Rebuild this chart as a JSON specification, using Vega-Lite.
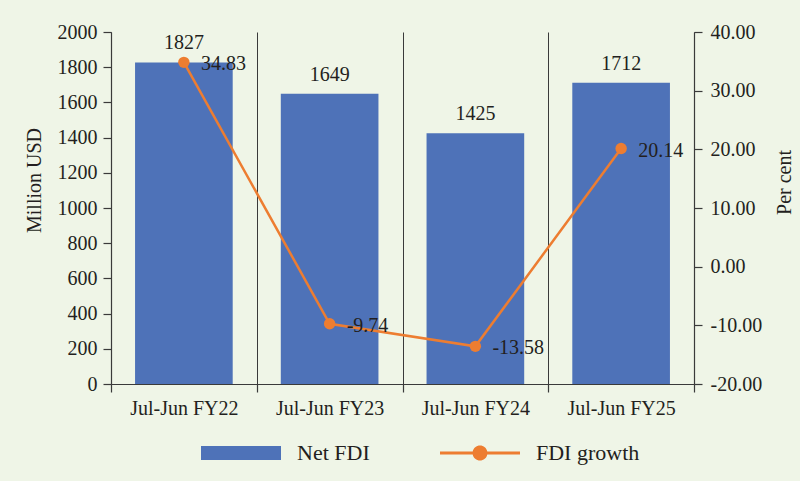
{
  "$schema": "https://vega.github.io/schema/vega-lite/v6.json",
  "width": 583,
  "height": 352,
  "autosize": "none",
  "padding": {"left": 111, "top": 32, "right": 106, "bottom": 97},
  "background": "#eff5e7",
  "config": {
    "font": "Liberation Serif",
    "locale": {"number": {"decimal": ".", "thousands": "", "grouping": [3], "currency": ["$", ""], "minus": "-"}},
    "view": {"stroke": null},
    "axis": {
      "labelFont": "Liberation Serif",
      "labelFontSize": 20,
      "labelColor": "#231f20",
      "titleFont": "Liberation Serif",
      "titleFontSize": 20,
      "titleFontWeight": "normal",
      "titleColor": "#231f20",
      "domainColor": "#3a3a3a",
      "tickColor": "#3a3a3a",
      "tickSize": 8,
      "domainWidth": 1.2,
      "tickWidth": 1.2
    },
    "text": {"font": "Liberation Serif", "fontSize": 20, "color": "#231f20"}
  },
  "data": {
    "values": [
      {"period": "Jul-Jun FY22", "net_fdi": 1827, "growth": 34.83},
      {"period": "Jul-Jun FY23", "net_fdi": 1649, "growth": -9.74},
      {"period": "Jul-Jun FY24", "net_fdi": 1425, "growth": -13.58},
      {"period": "Jul-Jun FY25", "net_fdi": 1712, "growth": 20.14}
    ]
  },
  "encoding": {
    "x": {
      "field": "period",
      "type": "nominal",
      "sort": null,
      "scale": {"paddingInner": 0, "paddingOuter": 0},
      "axis": {
        "title": null,
        "labelAngle": 0,
        "tickBand": "extent",
        "grid": true,
        "gridColor": "#3a3a3a",
        "gridWidth": 1,
        "labelPadding": 6
      }
    }
  },
  "layer": [
    {
      "encoding": {
        "y": {
          "field": "net_fdi",
          "type": "quantitative",
          "scale": {"domain": [0, 2000], "nice": false},
          "axis": {
            "title": "Million USD",
            "values": [0, 200, 400, 600, 800, 1000, 1200, 1400, 1600, 1800, 2000],
            "format": "d",
            "grid": false,
            "labelPadding": 6,
            "titlePadding": 13,
            "titleY": 148
          }
        }
      },
      "layer": [
        {
          "mark": {"type": "bar", "width": {"band": 0.67}},
          "encoding": {
            "color": {
              "datum": "Net FDI",
              "type": "nominal",
              "scale": {"domain": ["Net FDI", "FDI growth"], "range": ["#4e72b8", "#ed7d31"]},
              "legend": {
                "orient": "none",
                "legendX": 90,
                "legendY": 381,
                "direction": "horizontal",
                "title": null,
                "symbolSize": 6400,
                "labelFont": "Liberation Serif",
                "labelFontSize": 22,
                "labelColor": "#231f20",
                "labelOffset": 16,
                "columnPadding": 70,
                "symbolStrokeWidth": 0,
                "encode": {
                  "symbols": {
                    "update": {
                      "shape": {"signal": "datum.value === 'Net FDI' ? 'M-1,-0.175H1V0.175H-1Z' : 'M-1,-0.035H-0.182A0.185,0.185 0 0 1 0.182,-0.035H1V0.035H0.182A0.185,0.185 0 0 1 -0.182,0.035H-1Z'"},
                      "fill": {"signal": "datum.value === 'Net FDI' ? '#4e72b8' : '#ed7d31'"},
                      "fillOpacity": {"value": 1},
                      "strokeWidth": {"value": 0}
                    }
                  }
                }
              }
            }
          }
        },
        {
          "mark": {"type": "text", "baseline": "middle", "dy": -19},
          "encoding": {"text": {"field": "net_fdi", "type": "quantitative", "format": "d"}}
        }
      ]
    },
    {
      "encoding": {
        "y": {
          "field": "growth",
          "type": "quantitative",
          "scale": {"domain": [-20, 40], "nice": false},
          "axis": {
            "title": "Per cent",
            "orient": "right",
            "values": [-20, -10, 0, 10, 20, 30, 40],
            "format": ".2f",
            "grid": false,
            "labelPadding": 8,
            "titlePadding": 13,
            "titleAngle": 270,
            "titleBaseline": "top",
            "titleY": 150
          }
        }
      },
      "layer": [
        {
          "mark": {"type": "line", "strokeWidth": 2.5},
          "encoding": {"color": {"datum": "FDI growth", "type": "nominal"}}
        },
        {
          "mark": {"type": "point", "filled": true, "size": 130, "opacity": 1},
          "encoding": {"color": {"datum": "FDI growth", "type": "nominal"}}
        },
        {
          "mark": {"type": "text", "align": "left", "baseline": "middle", "dx": 17, "dy": 2},
          "encoding": {"text": {"field": "growth", "type": "quantitative", "format": ".2f"}}
        }
      ]
    }
  ],
  "resolve": {"scale": {"y": "independent"}}
}
